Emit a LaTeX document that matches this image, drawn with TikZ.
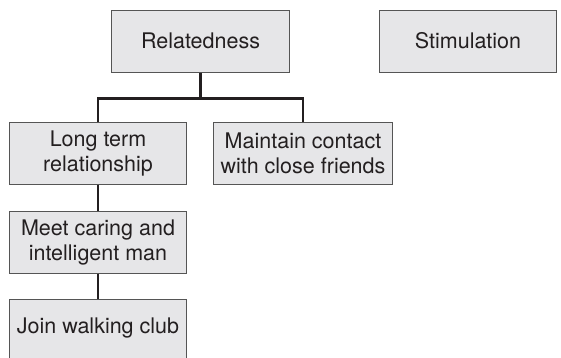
\documentclass[tikz,border=0pt]{standalone}
\usepackage{fontspec}
\setmainfont{TeX Gyre Heros}
\definecolor{boxfill}{HTML}{E6E6E8}
\definecolor{boxline}{HTML}{555555}
\definecolor{conn}{HTML}{231F20}
\definecolor{txt}{HTML}{231F20}
\begin{document}
\begin{tikzpicture}[x=1pt,y=-1pt,
  goalbox/.style={draw=boxline, line width=1pt, fill=boxfill, minimum width=177.5pt, minimum height=62pt,
    inner sep=0pt, align=center, text=txt, font=\fontsize{21.5}{25}\selectfont},
  link/.style={draw=conn, line width=2.7pt}]
\useasboundingbox (0,0) rectangle (561,357);
\node[goalbox] (rel) at (200.5,41) {Relatedness};
\node[goalbox] (stim) at (468,41) {Stimulation};
\node[goalbox] (ltr) at (98,153) {Long term\\relationship};
\node[goalbox, minimum width=178.3pt] (mc) at (303,153) {Maintain contact\\with close friends};
\node[goalbox] (meet) at (98,242) {Meet caring and\\intelligent man};
\node[goalbox] (join) at (98,330) {};
\node[text=txt, font=\fontsize{21.5}{25}\selectfont, inner sep=0pt] (jointxt) at (98,328) {Join walking club};
\path (rel.south) ++(0,26.3) coordinate (bar);
\draw[link] (rel.south) -- (bar) -| (ltr.north);
\draw[link] (bar) -| (mc.north);
\draw[link] (ltr.south) -- (meet.north);
\draw[link] (meet.south) -- (join.north);
\end{tikzpicture}
\end{document}
